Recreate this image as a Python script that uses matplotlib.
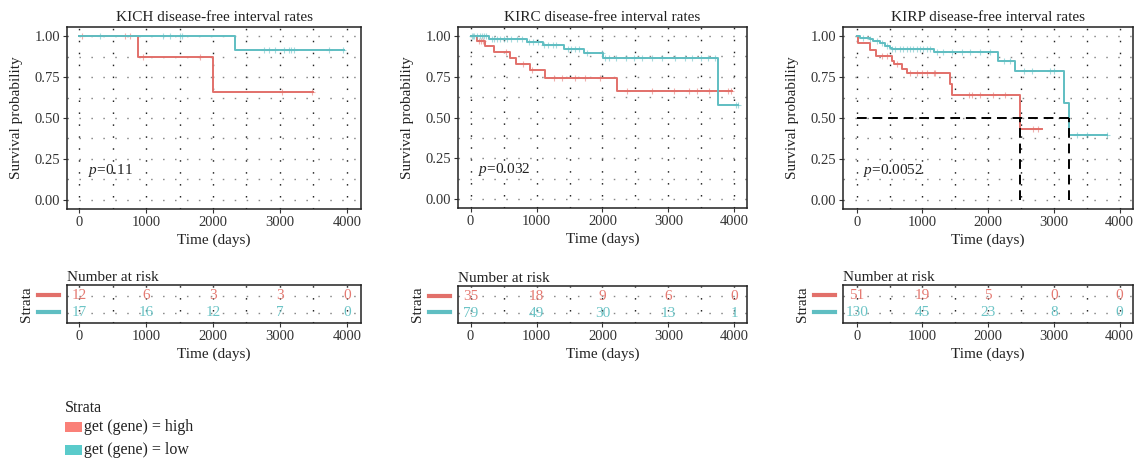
import numpy as np
import matplotlib
matplotlib.use('Agg')
import matplotlib.pyplot as plt
from matplotlib.patches import Rectangle
from matplotlib.transforms import blended_transform_factory

plt.rcParams['font.family'] = ['Liberation Serif', 'DejaVu Serif']
plt.rcParams['mathtext.fontset'] = 'custom'
plt.rcParams['mathtext.rm'] = 'Liberation Serif'
plt.rcParams['mathtext.it'] = 'Liberation Serif:italic'

# ---------------- data ----------------
titles = ["KICH disease-free interval rates",
          "KIRC disease-free interval rates",
          "KIRP disease-free interval rates"]
p_labels = ["0.11", "0.032", "0.0052"]
group_labels = ["get (gene) = high", "get (gene) = low"]
risk_times = [0, 1000, 2000, 3000, 4000]

# KICH
kich_high_t = [0, 877, 1993]
kich_high_s = [1.0, 0.875, 0.656]
kich_high_end = 3492
kich_high_cens = [50, 687, 762, 960, 1808, 3030, 3477]
kich_low_t = [0, 2331]
kich_low_s = [1.0, 0.917]
kich_low_end = 3950
kich_low_cens = [314, 1260, 1360, 1509, 1534, 2755, 2830, 2930, 3054, 3128,
                 3168, 3203, 3726, 3935]
kich_risk_high = [12, 6, 3, 3, 0]
kich_risk_low = [17, 16, 12, 7, 0]

# KIRC
kirc_high_t = [0, 95, 225, 353, 605, 696, 908, 1130, 2214]
kirc_high_s = [1.0, 0.968, 0.937, 0.903, 0.867, 0.831, 0.791, 0.742, 0.661]
kirc_high_end = 3970
kirc_high_cens = [130, 160, 190, 545, 797, 933, 1260, 1387, 1588, 1740, 1967,
                  2371, 2749, 3077, 3304, 3430, 3607, 3909, 3945]
kirc_low_t = [0, 277, 850, 1100, 1420, 1714, 2005, 3758]
kirc_low_s = [1.0, 0.983, 0.964, 0.944, 0.921, 0.896, 0.866, 0.575]
kirc_low_end = 4061
kirc_low_cens = [20, 40, 60, 100, 150, 180, 200, 240, 320, 350, 400, 450, 500,
                 560, 620, 700, 780, 880, 950, 1020, 1120, 1180, 1250, 1300,
                 1480, 1530, 1580, 1650, 1760, 1990, 2040, 2100, 2200, 2350,
                 2480, 2600, 2750, 2900, 3100, 3250, 3350, 3500, 3600, 3700,
                 4020, 4050]
kirc_risk_high = [35, 18, 9, 6, 0]
kirc_risk_low = [79, 49, 30, 13, 1]

# KIRP
kirp_high_t = [0, 25, 203, 294, 533, 569, 685, 761, 1421, 1447, 2492]
kirp_high_s = [1.0, 0.96, 0.915, 0.878, 0.848, 0.827, 0.80, 0.772, 0.707,
               0.642, 0.430]
kirp_high_end = 2817
kirp_high_cens = [381, 457, 609, 812, 914, 990, 1066, 1168, 1190, 1701, 1751,
                  1878, 2081, 2259, 2690, 2766]
kirp_low_t = [0, 51, 203, 254, 355, 431, 508, 533, 1168, 2155, 2405, 3160, 3234]
kirp_low_s = [1.0, 0.99, 0.98, 0.967, 0.955, 0.94, 0.925, 0.918, 0.901, 0.849,
              0.787, 0.590, 0.395]
kirp_low_end = 3807
kirp_low_cens = [102, 203, 305, 381, 457, 533, 584, 660, 711, 761, 812, 863,
                 914, 964, 1015, 1066, 1117, 1218, 1320, 1447, 1599, 1726,
                 1878, 2030, 2234, 2335, 2538, 2665, 2944, 2995, 3350, 3503,
                 3807]
kirp_risk_high = [51, 19, 5, 0, 0]
kirp_risk_low = [130, 45, 23, 8, 0]

# ---------------- style ----------------
W, H = 1143, 462
RED_LINE = '#E2706A'
TEAL_LINE = '#5FBEC2'
RED_TXT = '#E57A72'
TEAL_TXT = '#6CC4C6'
RED_PATCH = '#FA8078'
TEAL_PATCH = '#5ACBCB'

fig = plt.figure(figsize=(W / 100, H / 100), dpi=100)


def ax_px(l, t, r, b):
    return fig.add_axes([l / W, 1 - b / H, (r - l) / W, (b - t) / H])


def step_curve(ax, t, s, end, cens, color):
    tt = list(t) + [end]
    ss = list(s) + [s[-1]]
    ax.step(tt, ss, where='post', color=color, lw=1.4, zorder=3)
    c = np.asarray(cens)
    idx = np.searchsorted(np.asarray(t), c, side='right') - 1
    cy = np.asarray(s)[idx]
    ax.plot(c, cy, ls='none', marker='+', ms=4.5, mew=0.8, color=color,
            alpha=0.55, zorder=3)


def median_time(t, s):
    for ti, si in zip(t, s):
        if si <= 0.5:
            return ti
    return None


def style_grid(ax, ymajor, yminor):
    ax.set_xticks([0, 1000, 2000, 3000, 4000])
    ax.set_xticks([500, 1500, 2500, 3500], minor=True)
    ax.set_yticks(ymajor)
    if yminor is not None:
        ax.set_yticks(yminor, minor=True)
    ax.xaxis.grid(True, which='both', color='#222222', lw=1.0,
                  ls=(0, (1.1, 7.5)))
    ax.yaxis.grid(True, which='both', color='#888888', lw=1.0,
                  ls=(0, (1.1, 7.5)))
    ax.set_axisbelow(True)
    ax.tick_params(which='minor', length=0)
    ax.tick_params(which='major', length=3, width=0.8, color='#333333',
                   labelsize=10.5, pad=2, labelcolor='#333333')
    for sp in ax.spines.values():
        sp.set_linewidth(1.1)
        sp.set_color('#222222')


panels = [
    dict(main=(67, 27, 361, 209), risk=(67, 285, 361, 323), xlim=(-180, 4210),
         high=(kich_high_t, kich_high_s, kich_high_end, kich_high_cens),
         low=(kich_low_t, kich_low_s, kich_low_end, kich_low_cens),
         rh=kich_risk_high, rl=kich_risk_low, median=False),
    dict(main=(458, 27, 747, 208), risk=(458, 286, 747, 323), xlim=(-190, 4190),
         high=(kirc_high_t, kirc_high_s, kirc_high_end, kirc_high_cens),
         low=(kirc_low_t, kirc_low_s, kirc_low_end, kirc_low_cens),
         rh=kirc_risk_high, rl=kirc_risk_low, median=False),
    dict(main=(843, 27, 1133, 209), risk=(843, 285, 1133, 323), xlim=(-210, 4205),
         high=(kirp_high_t, kirp_high_s, kirp_high_end, kirp_high_cens),
         low=(kirp_low_t, kirp_low_s, kirp_low_end, kirp_low_cens),
         rh=kirp_risk_high, rl=kirp_risk_low, median=True),
]

for i, p in enumerate(panels):
    l, t, r, b = p['main']
    wpx = r - l
    ax = ax_px(*p['main'])
    ax.set_xlim(*p['xlim'])
    ax.set_ylim(-0.055, 1.055)
    style_grid(ax, [0, 0.25, 0.5, 0.75, 1.0], [0.125, 0.375, 0.625, 0.875])
    ax.set_yticklabels(['0.00', '0.25', '0.50', '0.75', '1.00'])
    step_curve(ax, *p['high'], RED_LINE)
    step_curve(ax, *p['low'], TEAL_LINE)
    if p['median']:
        mh = median_time(p['high'][0], p['high'][1])
        ml = median_time(p['low'][0], p['low'][1])
        mx = max(mh, ml)
        ax.plot([0, mx], [0.5, 0.5], color='black', lw=1.4, ls=(0, (5, 3)),
                zorder=4)
        ax.plot([mh, mh], [0, 0.5], color='black', lw=1.4, ls=(0, (5, 3)),
                zorder=4)
        ax.plot([ml, ml], [0, 0.5], color='black', lw=1.4, ls=(0, (5, 3)),
                zorder=4)
    ax.text(0.07, 0.21, r'$p$=' + p_labels[i], transform=ax.transAxes,
            fontsize=11, ha='left', va='center', color='#222222')
    ax.set_title(titles[i], fontsize=11, pad=4, color='#222222')
    ax.set_xlabel('Time (days)', fontsize=11, labelpad=3, color='#222222')
    ax.set_ylabel('Survival probability', fontsize=11, color='#222222')
    ax.yaxis.set_label_coords(-44 / wpx, 0.5)

    # risk table
    rl_, rt, rr, rb = p['risk']
    rw = rr - rl_
    ar = ax_px(*p['risk'])
    ar.set_xlim(*p['xlim'])
    ar.set_ylim(0.42, 2.62)
    style_grid(ar, [1, 2], None)
    ar.set_yticklabels([])
    ar.tick_params(axis='y', length=0)
    for x, n in zip(risk_times, p['rh']):
        ar.text(x, 2, str(n), color=RED_TXT, fontsize=11, ha='center',
                va='center')
    for x, n in zip(risk_times, p['rl']):
        ar.text(x, 1, str(n), color=TEAL_TXT, fontsize=11, ha='center',
                va='center')
    ar.set_title('Number at risk', loc='left', fontsize=11, pad=3,
                 color='#222222')
    ar.set_xlabel('Time (days)', fontsize=11, labelpad=3, color='#222222')
    ar.set_ylabel('Strata', fontsize=11, color='#222222')
    ar.yaxis.set_label_coords(-34 / rw, 0.5)
    tr = blended_transform_factory(ar.transAxes, ar.transData)
    ar.plot([-29 / rw, -8 / rw], [2.05, 2.05], color=RED_LINE, lw=3,
            transform=tr, clip_on=False)
    ar.plot([-29 / rw, -8 / rw], [1.05, 1.05], color=TEAL_LINE, lw=3,
            transform=tr, clip_on=False)

# bottom legend
fig.text(65 / W, 1 - 408 / H, 'Strata', fontsize=11.5, ha='left',
         va='center', color='#222222')
for k, (lab, col, yc) in enumerate([(group_labels[0], RED_PATCH, 427),
                                     (group_labels[1], TEAL_PATCH, 450)]):
    fig.patches.append(Rectangle((65 / W, 1 - (yc + 5) / H), 17 / W, 10 / H,
                                 transform=fig.transFigure, facecolor=col,
                                 edgecolor='none'))
    fig.text(84 / W, 1 - yc / H, lab, fontsize=11.5, ha='left', va='center',
             color='#222222')

fig.savefig('out.png', dpi=100)
